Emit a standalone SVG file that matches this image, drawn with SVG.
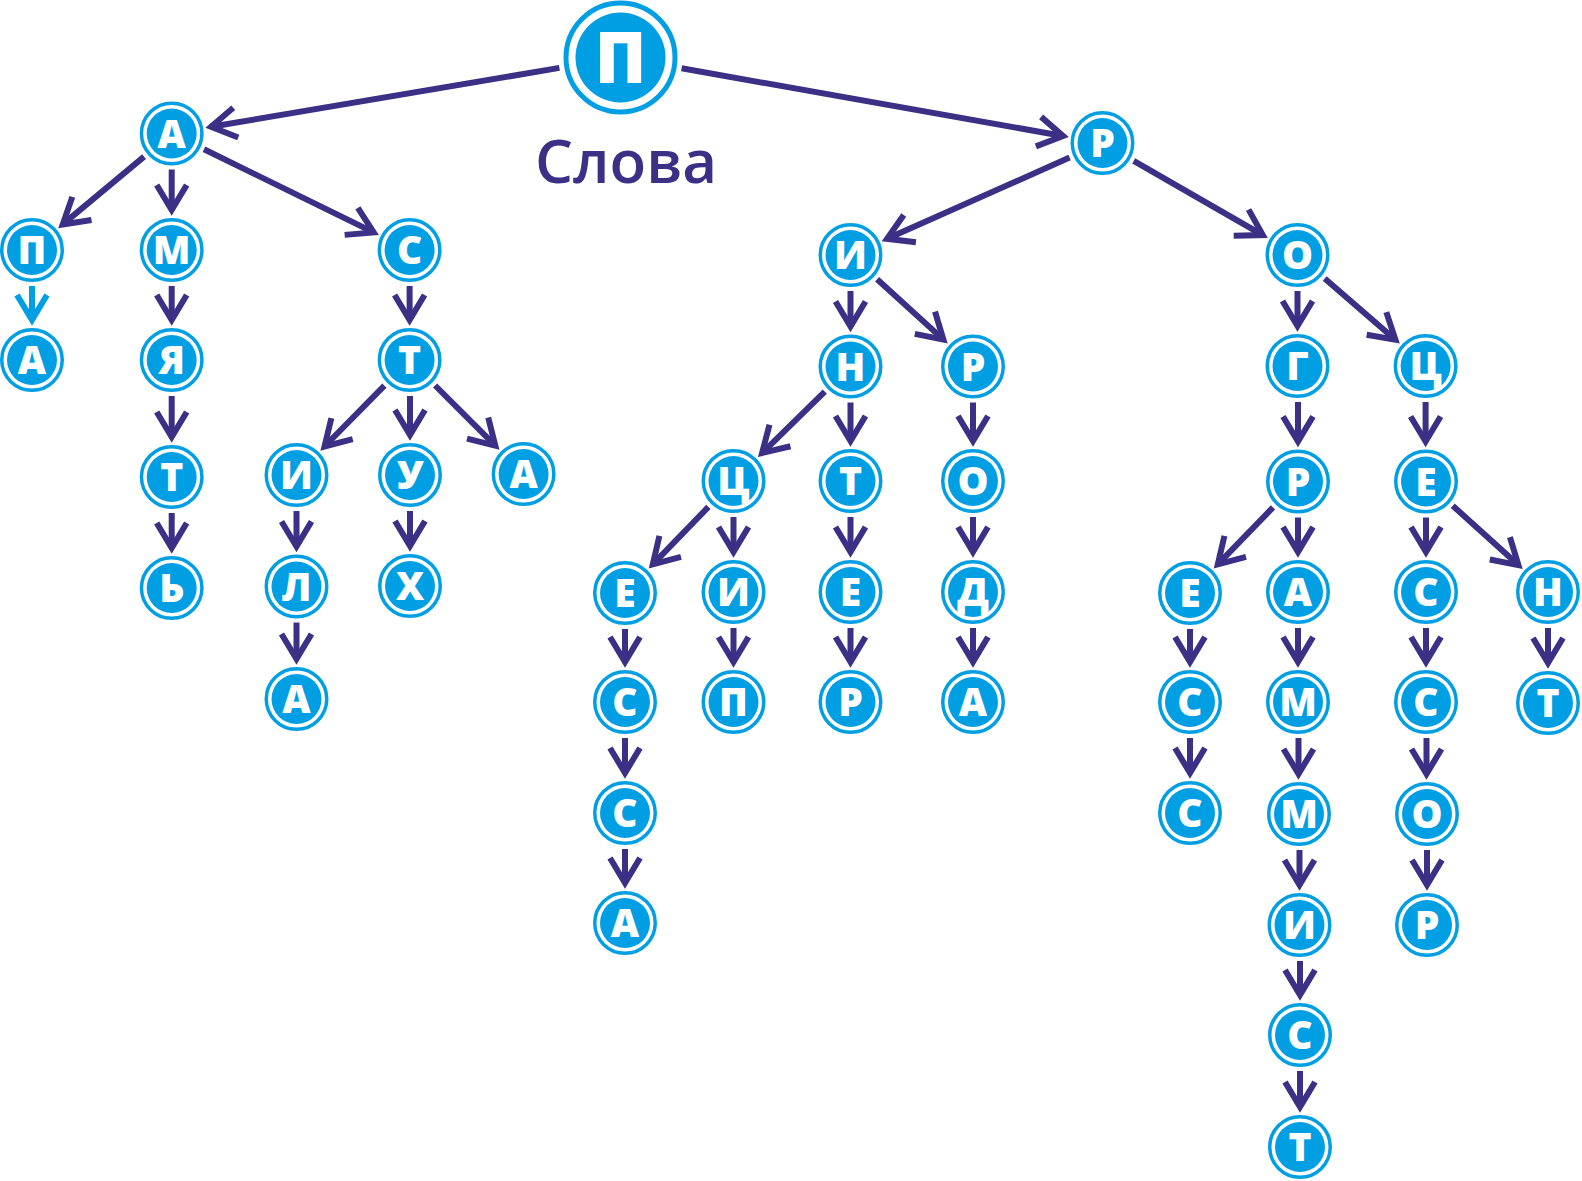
<svg xmlns="http://www.w3.org/2000/svg" width="1582" height="1181" viewBox="0 0 1582 1181">
<style>
.o{fill:#fff;stroke:#009FE3;stroke-width:3.5}
.i{fill:#009FE3}
.t{fill:#fff;font-family:"Open Sans","DejaVu Sans",sans-serif;font-weight:800;font-size:39px;text-anchor:middle}
.e{stroke:#3B2F86;stroke-width:6;fill:none;marker-end:url(#ah)}
.eb{stroke:#009FE3;stroke-width:6;fill:none;marker-end:url(#ahb)}
.title{fill:#3B2F86;font-family:"Open Sans","DejaVu Sans",sans-serif;font-weight:600;font-size:60px}
</style>
<defs>
<marker id="ah" markerUnits="userSpaceOnUse" orient="auto" refX="0" refY="0" markerWidth="60" markerHeight="60" overflow="visible">
<path d="M-25,-15 L0,0 L-25,15" fill="none" stroke="#3B2F86" stroke-width="6"/>
</marker>
<marker id="ahb" markerUnits="userSpaceOnUse" orient="auto" refX="0" refY="0" markerWidth="60" markerHeight="60" overflow="visible">
<path d="M-25,-15 L0,0 L-25,15" fill="none" stroke="#009FE3" stroke-width="6"/>
</marker>
</defs>
<rect width="1582" height="1181" fill="#fff"/>
<g id="connectors">
<line class="e" x1="559.4" y1="67.9" x2="211.1" y2="126.8"/>
<line class="e" x1="681.6" y1="68.3" x2="1063.1" y2="136"/>
<line class="e" x1="144.1" y1="156.6" x2="62.7" y2="224.4"/>
<line class="e" x1="171.7" y1="169.5" x2="171.7" y2="210"/>
<line class="e" x1="204" y1="149.3" x2="373.7" y2="232.4"/>
<line class="eb" x1="32" y1="286" x2="32" y2="320"/>
<line class="e" x1="171.7" y1="286" x2="171.7" y2="320"/>
<line class="e" x1="171.7" y1="396" x2="171.7" y2="437"/>
<line class="e" x1="171.7" y1="513" x2="171.7" y2="548"/>
<line class="e" x1="409.6" y1="286" x2="409.6" y2="320"/>
<line class="e" x1="384.4" y1="385.7" x2="324.5" y2="446.5"/>
<line class="e" x1="410" y1="396" x2="410" y2="435"/>
<line class="e" x1="435.1" y1="385.5" x2="495.3" y2="445.7"/>
<line class="e" x1="296.5" y1="511" x2="296.5" y2="546.5"/>
<line class="e" x1="296.5" y1="622.5" x2="296.5" y2="659"/>
<line class="e" x1="410" y1="511" x2="410" y2="546"/>
<line class="e" x1="1069.6" y1="157.6" x2="887" y2="238.8"/>
<line class="e" x1="1133.7" y1="160.9" x2="1262.8" y2="235.1"/>
<line class="e" x1="850.5" y1="291" x2="850.5" y2="326.5"/>
<line class="e" x1="877.1" y1="279.2" x2="943.4" y2="339.6"/>
<line class="e" x1="824.8" y1="391.7" x2="762.1" y2="453"/>
<line class="e" x1="850.5" y1="402.5" x2="850.5" y2="441"/>
<line class="e" x1="973" y1="402.5" x2="973" y2="441"/>
<line class="e" x1="708.4" y1="506.9" x2="652.8" y2="564.3"/>
<line class="e" x1="733.5" y1="517" x2="733.5" y2="552"/>
<line class="e" x1="850.5" y1="517" x2="850.5" y2="552"/>
<line class="e" x1="973" y1="517" x2="973" y2="552"/>
<line class="e" x1="625" y1="629" x2="625" y2="662"/>
<line class="e" x1="733.5" y1="628" x2="733.5" y2="662"/>
<line class="e" x1="850.5" y1="628" x2="850.5" y2="662"/>
<line class="e" x1="973" y1="628" x2="973" y2="662"/>
<line class="e" x1="625" y1="738" x2="625" y2="773"/>
<line class="e" x1="625" y1="849" x2="625" y2="883"/>
<line class="e" x1="1297.5" y1="291" x2="1297.5" y2="326"/>
<line class="e" x1="1324.7" y1="278.6" x2="1395.4" y2="339.8"/>
<line class="e" x1="1298" y1="402" x2="1298" y2="441.5"/>
<line class="e" x1="1425.6" y1="402" x2="1425.6" y2="441.5"/>
<line class="e" x1="1273" y1="507.4" x2="1217.8" y2="564.3"/>
<line class="e" x1="1298" y1="517.5" x2="1298" y2="552"/>
<line class="e" x1="1426" y1="517.5" x2="1426" y2="552"/>
<line class="e" x1="1452.7" y1="505.7" x2="1518.4" y2="565.1"/>
<line class="e" x1="1190" y1="629" x2="1190" y2="662"/>
<line class="e" x1="1298" y1="628" x2="1298" y2="662"/>
<line class="e" x1="1426" y1="628" x2="1426" y2="662"/>
<line class="e" x1="1548" y1="628" x2="1548" y2="663"/>
<line class="e" x1="1190" y1="738" x2="1190" y2="773"/>
<line class="e" x1="1298.5" y1="738" x2="1298.5" y2="774"/>
<line class="e" x1="1426.5" y1="738" x2="1426.5" y2="774"/>
<line class="e" x1="1299.5" y1="850" x2="1299.5" y2="885"/>
<line class="e" x1="1427" y1="850" x2="1427" y2="885"/>
<line class="e" x1="1300" y1="961" x2="1300" y2="995"/>
<line class="e" x1="1300" y1="1071" x2="1300" y2="1107"/>
</g>
<g id="root" transform="translate(620.5,57.5)"><circle r="54.5" fill="#fff" stroke="#009FE3" stroke-width="5"/><circle class="i" r="45"/><text class="t" y="25" style="font-size:70px">П</text></g>
<text class="title" x="535" y="183">Слова</text>
<g id="n_a" transform="translate(171.7,133.5)"><circle class="o" r="30.25"/><circle class="i" r="25"/><text class="t" y="14">А</text></g>
<g id="n_r" transform="translate(1102.5,143)"><circle class="o" r="30.25"/><circle class="i" r="25"/><text class="t" y="14">Р</text></g>
<g id="n_ap" transform="translate(32,250)"><circle class="o" r="30.25"/><circle class="i" r="25"/><text class="t" y="14">П</text></g>
<g id="n_am" transform="translate(171.7,250)"><circle class="o" r="30.25"/><circle class="i" r="25"/><text class="t" y="14">М</text></g>
<g id="n_as" transform="translate(409.6,250)"><circle class="o" r="30.25"/><circle class="i" r="25"/><text class="t" y="14">С</text></g>
<g id="n_apa" transform="translate(32,360)"><circle class="o" r="30.25"/><circle class="i" r="25"/><text class="t" y="14">А</text></g>
<g id="n_amya" transform="translate(171.7,360)"><circle class="o" r="30.25"/><circle class="i" r="25"/><text class="t" y="14">Я</text></g>
<g id="n_ast" transform="translate(409.6,360)"><circle class="o" r="30.25"/><circle class="i" r="25"/><text class="t" y="14">Т</text></g>
<g id="n_amyat" transform="translate(171.7,477)"><circle class="o" r="30.25"/><circle class="i" r="25"/><text class="t" y="14">Т</text></g>
<g id="n_asti" transform="translate(296.5,475)"><circle class="o" r="30.25"/><circle class="i" r="25"/><text class="t" y="14">И</text></g>
<g id="n_astu" transform="translate(410,475)"><circle class="o" r="30.25"/><circle class="i" r="25"/><text class="t" y="14">У</text></g>
<g id="n_asta" transform="translate(523.6,474)"><circle class="o" r="30.25"/><circle class="i" r="25"/><text class="t" y="14">А</text></g>
<g id="n_amyatb" transform="translate(171.7,588)"><circle class="o" r="30.25"/><circle class="i" r="25"/><text class="t" y="14">Ь</text></g>
<g id="n_astil" transform="translate(296.5,586.5)"><circle class="o" r="30.25"/><circle class="i" r="25"/><text class="t" y="14">Л</text></g>
<g id="n_astux" transform="translate(410,586)"><circle class="o" r="30.25"/><circle class="i" r="25"/><text class="t" y="14">Х</text></g>
<g id="n_astila" transform="translate(296.5,699)"><circle class="o" r="30.25"/><circle class="i" r="25"/><text class="t" y="14">А</text></g>
<g id="n_ri" transform="translate(850.5,255)"><circle class="o" r="30.25"/><circle class="i" r="25"/><text class="t" y="14">И</text></g>
<g id="n_ro" transform="translate(1297.5,255)"><circle class="o" r="30.25"/><circle class="i" r="25"/><text class="t" y="14">О</text></g>
<g id="n_rin" transform="translate(850.5,366.5)"><circle class="o" r="30.25"/><circle class="i" r="25"/><text class="t" y="14">Н</text></g>
<g id="n_rir" transform="translate(973,366.5)"><circle class="o" r="30.25"/><circle class="i" r="25"/><text class="t" y="14">Р</text></g>
<g id="n_rog" transform="translate(1297.5,366)"><circle class="o" r="30.25"/><circle class="i" r="25"/><text class="t" y="14">Г</text></g>
<g id="n_roc" transform="translate(1425.6,366)"><circle class="o" r="30.25"/><circle class="i" r="25"/><text class="t" y="14">Ц</text></g>
<g id="n_rinc" transform="translate(733.5,481)"><circle class="o" r="30.25"/><circle class="i" r="25"/><text class="t" y="14">Ц</text></g>
<g id="n_rint" transform="translate(850.5,481)"><circle class="o" r="30.25"/><circle class="i" r="25"/><text class="t" y="14">Т</text></g>
<g id="n_riro" transform="translate(973,481)"><circle class="o" r="30.25"/><circle class="i" r="25"/><text class="t" y="14">О</text></g>
<g id="n_rogr" transform="translate(1298,481.5)"><circle class="o" r="30.25"/><circle class="i" r="25"/><text class="t" y="14">Р</text></g>
<g id="n_roce" transform="translate(1426,481.5)"><circle class="o" r="30.25"/><circle class="i" r="25"/><text class="t" y="14">Е</text></g>
<g id="n_rince" transform="translate(625,593)"><circle class="o" r="30.25"/><circle class="i" r="25"/><text class="t" y="14">Е</text></g>
<g id="n_linci" transform="translate(733.5,592)"><circle class="o" r="30.25"/><circle class="i" r="25"/><text class="t" y="14">И</text></g>
<g id="n_rinte" transform="translate(850.5,592)"><circle class="o" r="30.25"/><circle class="i" r="25"/><text class="t" y="14">Е</text></g>
<g id="n_rirod" transform="translate(973,592)"><circle class="o" r="30.25"/><circle class="i" r="25"/><text class="t" y="14">Д</text></g>
<g id="n_rogre" transform="translate(1190,593)"><circle class="o" r="30.25"/><circle class="i" r="25"/><text class="t" y="14">Е</text></g>
<g id="n_rogra" transform="translate(1298,592)"><circle class="o" r="30.25"/><circle class="i" r="25"/><text class="t" y="14">А</text></g>
<g id="n_roces" transform="translate(1426,592)"><circle class="o" r="30.25"/><circle class="i" r="25"/><text class="t" y="14">С</text></g>
<g id="n_rocen" transform="translate(1548,592)"><circle class="o" r="30.25"/><circle class="i" r="25"/><text class="t" y="14">Н</text></g>
<g id="n_rinces" transform="translate(625,702)"><circle class="o" r="30.25"/><circle class="i" r="25"/><text class="t" y="14">С</text></g>
<g id="n_rincip" transform="translate(733.5,702)"><circle class="o" r="30.25"/><circle class="i" r="25"/><text class="t" y="14">П</text></g>
<g id="n_rinter" transform="translate(850.5,702)"><circle class="o" r="30.25"/><circle class="i" r="25"/><text class="t" y="14">Р</text></g>
<g id="n_riroda" transform="translate(973,702)"><circle class="o" r="30.25"/><circle class="i" r="25"/><text class="t" y="14">А</text></g>
<g id="n_rogres" transform="translate(1190,702)"><circle class="o" r="30.25"/><circle class="i" r="25"/><text class="t" y="14">С</text></g>
<g id="n_rogram" transform="translate(1298,702)"><circle class="o" r="30.25"/><circle class="i" r="25"/><text class="t" y="14">М</text></g>
<g id="n_rocess" transform="translate(1426,702)"><circle class="o" r="30.25"/><circle class="i" r="25"/><text class="t" y="14">С</text></g>
<g id="n_rocent" transform="translate(1548,703)"><circle class="o" r="30.25"/><circle class="i" r="25"/><text class="t" y="14">Т</text></g>
<g id="n_rincess" transform="translate(625,813)"><circle class="o" r="30.25"/><circle class="i" r="25"/><text class="t" y="14">С</text></g>
<g id="n_rogress" transform="translate(1190,813)"><circle class="o" r="30.25"/><circle class="i" r="25"/><text class="t" y="14">С</text></g>
<g id="n_rogramm" transform="translate(1299,814)"><circle class="o" r="30.25"/><circle class="i" r="25"/><text class="t" y="14">М</text></g>
<g id="n_rocesso" transform="translate(1427,814)"><circle class="o" r="30.25"/><circle class="i" r="25"/><text class="t" y="14">О</text></g>
<g id="n_rincessa" transform="translate(625,923)"><circle class="o" r="30.25"/><circle class="i" r="25"/><text class="t" y="14">А</text></g>
<g id="n_rogrammi" transform="translate(1299.5,925)"><circle class="o" r="30.25"/><circle class="i" r="25"/><text class="t" y="14">И</text></g>
<g id="n_rocessor" transform="translate(1427,925)"><circle class="o" r="30.25"/><circle class="i" r="25"/><text class="t" y="14">Р</text></g>
<g id="n_rogrammis" transform="translate(1300,1035)"><circle class="o" r="30.25"/><circle class="i" r="25"/><text class="t" y="14">С</text></g>
<g id="n_rogrammist" transform="translate(1300,1147)"><circle class="o" r="30.25"/><circle class="i" r="25"/><text class="t" y="14">Т</text></g>
</svg>
